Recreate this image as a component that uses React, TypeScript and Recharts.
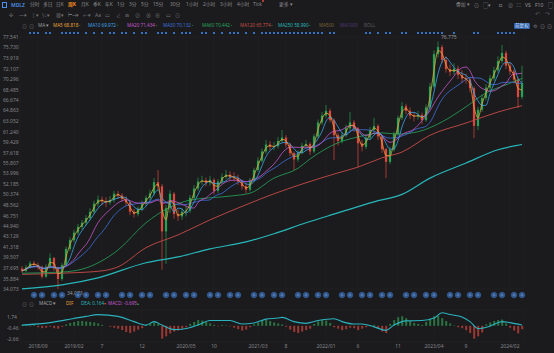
import React from 'react';
import { ComposedChart, Bar, Line, XAxis, YAxis, CartesianGrid, Cell } from 'recharts';

// ---------- DATA ----------
const closes = [37.2,37.8,38.5,38.2,37.9,36.2,37.9,39.4,37.6,35.8,38.2,41.0,42.5,43.8,44.8,45.5,46.3,47.4,48.8,49.5,
49.2,49.0,49.4,50.5,50.2,49.6,49.0,47.4,47.0,47.9,48.8,49.8,50.6,52.5,51.8,44.0,48.0,50.5,47.0,46.6,
47.4,47.6,49.8,51.4,52.6,52.8,52.4,52.9,51.0,52.6,53.4,53.8,53.4,53.2,52.6,51.8,51.2,52.8,54.6,56.2,
57.8,59.0,58.6,58.7,59.6,60.2,59.0,57.5,56.4,57.6,58.8,59.1,57.8,60.4,62.8,64.0,64.8,63.2,60.6,59.6,
60.6,61.8,62.8,61.8,59.2,58.6,60.2,61.5,62.2,60.4,58.2,56.0,58.1,60.8,63.6,65.6,64.8,64.0,63.8,64.1,
63.2,65.4,69.0,74.6,75.8,73.6,72.0,71.5,72.1,71.0,70.4,70.2,68.7,62.2,65.0,67.0,68.8,70.4,71.8,73.4,
74.8,72.6,71.6,70.2,67.2,69.6];
const opens = [37.6,37.2,37.8,38.5,38.2,37.9,36.2,37.9,39.4,37.6,35.8,38.2,41.0,42.5,43.8,44.8,45.5,46.3,47.4,48.8,
49.5,49.2,49.0,49.4,50.5,50.2,49.6,49.0,47.4,47.0,47.9,48.8,49.8,50.6,52.5,51.8,44.0,48.0,50.5,47.0,
46.6,47.4,47.6,49.8,51.4,52.6,52.8,52.4,52.9,51.0,52.6,53.4,53.8,53.4,53.2,52.6,51.8,51.2,52.8,54.6,
56.2,57.8,59.0,58.6,58.7,59.6,60.2,59.0,57.5,56.4,57.6,58.8,59.1,57.8,60.4,62.8,64.0,64.8,63.2,60.6,
59.6,60.6,61.8,62.8,61.8,59.2,58.6,60.2,61.5,62.2,60.4,58.2,56.0,58.1,60.8,63.6,65.6,64.8,64.0,63.8,
64.1,63.2,65.4,69.0,74.6,75.8,73.6,72.0,71.5,72.1,71.0,70.4,70.2,68.7,62.2,65.0,67.0,68.8,70.4,71.8,
73.4,74.8,72.6,71.6,70.2,67.2];
const highs = [38.0,38.2,38.9,38.9,38.6,38.1,38.3,40.2,39.6,37.9,38.6,41.4,43.0,44.3,45.3,46.0,46.8,48.0,49.3,50.2,
50.0,49.9,50.1,51.0,51.0,50.6,50.0,49.2,47.9,48.3,49.3,50.2,51.2,53.2,54.6,52.2,48.6,51.1,50.8,47.8,
48.0,48.4,50.3,52.0,53.3,53.6,53.3,53.6,53.2,53.0,54.0,54.6,54.4,54.2,53.8,52.9,52.3,53.2,55.0,56.8,
58.3,59.8,59.6,59.4,60.3,61.5,60.6,59.3,57.8,58.0,59.3,59.8,59.4,60.8,63.3,64.6,65.8,65.2,63.5,61.0,
61.2,62.4,64.6,63.2,62.0,59.8,60.6,62.0,63.6,62.5,60.6,58.4,58.6,61.2,64.0,66.3,66.0,65.4,64.6,64.8,
64.5,65.9,69.6,75.2,76.775,76.2,74.2,72.8,73.0,72.6,71.8,71.2,70.6,69.0,65.5,67.6,69.4,71.0,72.4,74.2,
76.2,75.2,73.2,72.0,70.6,72.6];
const lows = [36.9,37.0,37.6,37.8,37.4,35.9,36.0,37.6,37.2,34.073,35.5,38.0,40.6,42.1,43.4,44.3,45.0,45.9,47.0,48.3,
48.5,48.2,48.6,49.0,49.6,49.1,48.4,46.8,46.4,46.6,47.5,48.4,49.4,50.2,51.2,37.4,38.4,47.2,46.2,45.8,
46.0,46.6,47.2,49.4,51.0,52.0,51.8,51.9,50.4,50.6,52.2,53.0,52.8,52.6,52.0,51.2,50.6,50.9,52.5,54.3,
55.9,57.4,58.0,58.0,58.3,59.3,58.5,57.0,54.6,56.0,57.3,58.4,57.2,57.5,60.1,62.4,63.6,62.8,56.3,58.8,
59.2,60.3,61.4,61.2,55.1,57.8,58.2,59.8,61.0,59.8,57.5,53.2,55.6,57.8,60.5,63.2,64.2,63.4,63.0,63.3,
62.5,62.9,65.1,68.7,74.0,73.0,71.4,70.8,71.0,70.3,69.6,69.5,68.0,60.1,61.5,64.6,66.6,68.4,70.0,71.4,
73.0,72.0,71.0,69.5,65.3,66.8];

// long moving averages (anchor candles and values)
const ma60Idx = [0,10,16,24,31,42,52,57,63,69,72,79,84,90,94,99,105,111,116,121,125];
const ma60Val = [36.8,37.0,37.7,40.8,45.5,49.4,50.1,50.6,53.2,54.9,56.5,59.3,60.3,61.0,60.8,61.2,62.9,65.5,67.9,69.3,70.4];
const ma120Idx = [0,10,20,24,31,39,47,56,63,71,79,84,90,95,102,111,119,125];
const ma120Val = [36.6,36.8,37.2,37.9,41.2,43.4,46.0,48.6,50.5,52.4,54.1,55.1,56.7,57.7,60.6,62.7,64.6,65.7];
const ma250Idx = [0,10,19,31,39,47,56,63,71,79,88,95,102,111,119,125];
const ma250Val = [34.1,34.8,36.0,38.6,39.6,41.0,42.2,43.6,45.5,47.2,49.1,50.4,53.2,55.8,58.1,59.0];

// MACD panel
const macdHist = [0.2,0.1,-0.1,0.15,-0.3,-0.5,-0.4,-0.2,-0.5,-0.6,-0.2,0.3,0.6,0.8,1.0,1.0,0.9,0.8,0.7,0.5,
0.2,0.0,-0.2,-0.4,-0.6,-0.9,-1.3,-1.5,-1.2,-0.8,-0.5,0.2,0.5,0.7,0.4,-2.7,-2.2,-1.6,-1.2,-1.0,
-0.6,-0.3,0.4,0.8,1.2,1.1,0.8,0.5,0.2,-0.1,0.2,0.1,-0.1,-0.4,-0.7,-1.0,-0.8,-0.3,0.3,0.7,
1.1,1.2,1.0,0.7,0.5,0.3,-0.2,-0.8,-1.3,-1.5,-1.2,-0.9,-0.6,0.4,0.9,1.2,1.1,0.6,-0.3,-0.6,
-0.9,-0.7,-0.4,-0.5,-0.9,-0.6,-0.3,0.1,0.2,-0.6,-1.2,-1.5,0.4,1.2,1.8,2.0,1.6,1.0,0.6,0.4,
0.2,0.8,1.5,2.0,2.1,1.6,1.0,0.5,0.1,-0.3,-0.5,-0.9,-1.5,-2.7,-2.2,-1.4,0.3,0.7,1.0,1.2,
1.3,0.5,-0.4,-1.0,-1.6,-0.7];
const deaIdx = [0,7,11,16,19,24,28,31,33,35,38,40,44,47,52,55,58,61,64,65,68,71,74,78,80,83,85,88,91,93,96,100,103,105,107,110,112,114,117,120,122,125];
const deaVal = [0.15,0.66,1.25,1.98,2.35,1.98,0.88,0.15,0.88,0.15,-0.8,-0.73,0.15,1.1,1.1,0.37,0.59,1.4,1.62,1.76,0.88,0.52,1.1,1.47,0.88,0.37,0.37,-0.22,-0.95,0.15,1.03,1.1,1.62,2.73,2.35,1.84,0.88,-0.58,-0.07,0.88,0.66,0.16];

// event markers
const dividendIdx = [2,3,4,6,7,10,11,12,13,14,16,18,20,22,23,25,26,28,30,31,34,35,36,38,40,41,42,45,46,48,50,52,53,54,56,58,60,61,62,63,64,65,66,67,68,69,70,71,72,73,74,75,77,78,86,87,89,91,92,95,96,99,100,101,102,103,104,105,108,113,114,119,120,121,122,123];
const earningsIdx = [3,8,14,19,25,30,36,41,47,52,58,63,69,74,80,85,90,96,101,107,112,118,123];

// axis labels
const priceTicks = [77.541,75.730,73.919,72.107,70.296,68.485,66.674,64.863,63.052,61.240,59.429,57.618,55.807,53.996,52.185,50.374,48.562,46.751,44.940,43.129,41.318,39.507,37.695,35.884,34.073];
const macdTicks = [1.74,-0.46,-2.66];
const xTickIdx = [4,13,20,30,41,48,59,66,76,84,94,103,111,122];
const xTickText = ['2018/09','2019/02','7','12','2020/05','10','2021/03','8','2022/01','6','11','2023/04','9','2024/02'];

// ---------- helpers ----------
const N = closes.length;
const sma = (w: number, i: number) => {
  const s = Math.max(0, i - w + 1);
  let t = 0;
  for (let k = s; k <= i; k++) t += closes[k];
  return +(t / (i - s + 1)).toFixed(3);
};
const sparse = (idx: number[], val: number[]) => {
  const a: (number | null)[] = new Array(N).fill(null);
  idx.forEach((k, j) => { a[k] = val[j]; });
  return a;
};
const ma60 = sparse(ma60Idx, ma60Val);
const ma120 = sparse(ma120Idx, ma120Val);
const ma250 = sparse(ma250Idx, ma250Val);
const dea = sparse(deaIdx, deaVal);

const maxHigh = Math.max(...highs);
const minLow = Math.min(...lows);
const maxIdx = highs.indexOf(maxHigh);
const minIdx = lows.indexOf(minLow);

const rows = closes.map((c, i) => ({
  i,
  o: opens[i], h: highs[i], l: lows[i], c,
  ma5: sma(2, i), ma10: sma(4, i), ma20: sma(9, i), ma30: sma(13, i),
  ma60: ma60[i], ma120: ma120[i], ma250: ma250[i],
  hist: macdHist[i], dea: dea[i],
  ev: dividendIdx.includes(i) ? 1 : null,
  er: earningsIdx.includes(i) ? 1 : null,
}));

// ---------- styles ----------
const BG = '#1b1b1d';
const GRID = '#262629';
const AXT = '#85858a';
const UP = '#22a453';
const DOWN = '#e0463d';
const FONT = "'Noto Sans', 'Noto Sans CJK SC', sans-serif";
const C = { ma5: '#e9a23b', ma10: '#3fa2e6', ma20: '#c457cb', ma30: '#3d6fdc', ma60: '#27a35c', ma120: '#c64b47', ma250: '#27b7bb' };

const Candle = (p: any) => {
  const { x, y, width, height, payload } = p;
  if (!payload) return null;
  const { o, h, l, c, i } = payload;
  const top = Math.min(y, y + height);
  const hh = Math.abs(height);
  const k = hh / ((h - l) || 1);
  const up = c >= o;
  const col = up ? UP : DOWN;
  const cx = x + width / 2;
  const y1 = top + (h - Math.max(o, c)) * k;
  const y2 = top + (h - Math.min(o, c)) * k;
  const bw = Math.max(1, width * 0.55);
  return (
    <g>
      <line x1={cx} x2={cx} y1={top} y2={top + hh} stroke={col} strokeWidth={0.7} />
      <rect x={cx - bw / 2} y={y1} width={bw} height={Math.max(0.7, y2 - y1)} fill={col} />
      {i === maxIdx && (
        <text x={cx + 3} y={top - 2} fontSize={5} fill="#9a9a9e" fontFamily={FONT}>{maxHigh.toFixed(3)}</text>
      )}
      {i === minIdx && (
        <text x={cx + 9} y={top + hh + 6} fontSize={5} fill="#9a9a9e" fontFamily={FONT}>{minLow.toFixed(3)}</text>
      )}
    </g>
  );
};

const DivMark = (p: any) => {
  const { x, y, width, height } = p;
  if (height === undefined || isNaN(y)) return null;
  const cx = x + width / 2;
  const cy = Math.min(y, y + height) + Math.abs(height) / 2;
  return <rect x={cx - 1} y={cy - 1} width={2} height={2} fill="#3672c6" />;
};

const EarnMark = (p: any) => {
  const { x, y, width, height } = p;
  if (height === undefined || isNaN(y)) return null;
  const cx = x + width / 2;
  const cy = Math.min(y, y + height) + Math.abs(height) / 2;
  const one = (ox: number) => (
    <g key={ox}>
      <circle cx={ox} cy={cy} r={2.8} fill="#274d84" stroke="#3f72b8" strokeWidth={0.5} />
      <circle cx={ox} cy={cy} r={1.1} fill="none" stroke="#8fb0e0" strokeWidth={0.5} />
    </g>
  );
  return <g>{one(cx)}{one(cx + width * 2)}</g>;
};

const LeftTick = (p: any) => (
  <text x={3} y={p.y + 2} fontSize={5} fill={AXT} fontFamily={FONT}>{Number(p.payload.value).toFixed(3)}</text>
);
const RightTick = (p: any) => (
  <text x={531} y={p.y + 2} fontSize={5} fill={AXT} fontFamily={FONT}>{Number(p.payload.value).toFixed(3)}</text>
);
const LeftTickM = (p: any) => (
  <text x={7} y={p.y + 2} fontSize={5} fill={AXT} fontFamily={FONT}>{Number(p.payload.value).toFixed(2)}</text>
);
const RightTickM = (p: any) => (
  <text x={531} y={p.y + 2} fontSize={5} fill={AXT} fontFamily={FONT}>{Number(p.payload.value).toFixed(2)}</text>
);
const XTick = (p: any) => {
  const k = xTickIdx.indexOf(p.payload.value);
  return (
    <text x={p.x} y={p.y + 6} fontSize={5} fill={AXT} textAnchor="middle" fontFamily={FONT}>{k >= 0 ? xTickText[k] : ''}</text>
  );
};

const T = ({ x, y, c = AXT, s = 5, w = 400, children, bg }: any) => (
  <span style={{ position: 'absolute', left: x, top: y - s * 0.62, fontSize: s, lineHeight: 1.2 + 'em', height: s * 1.2, color: c, whiteSpace: 'nowrap', fontFamily: FONT, fontWeight: w, background: bg, padding: bg ? '0 1px' : 0, borderRadius: bg ? 1 : 0 }}>{children}</span>
);

const toolbar1 = ['分时', '多日', '日K', '周K', '月K', '季K', '年K', '1分', '3分', '5分', '15分', '30分', '1小时', '2小时', '3小时', '4小时', 'Tick'];
const toolbar1X = [30, 43, 56, 68, 81, 93, 105, 117, 129, 141, 153, 170, 186, 203, 220, 237, 253];
const tools2 = ['✣', '—▾', '⌇▾', '✂▾', '▦▾', '⊢⊣▾', '←▾', 'Aa', '▭', '∠', '⋒', '⊘', '⊗', '⊕', '▭', '⊙'];
const tools2X = [9, 19, 31, 42, 56, 68, 83, 95, 105, 116, 125, 135, 146, 155, 166, 175];

const legend = [
  { t: 'MA5', v: '68.818', c: C.ma5, x: 53 },
  { t: 'MA10', v: '69.972', c: C.ma10, x: 88 },
  { t: 'MA20', v: '71.434', c: C.ma20, x: 127 },
  { t: 'MA30', v: '70.132', c: C.ma30, x: 163 },
  { t: 'MA60', v: '70.442', c: C.ma60, x: 202 },
  { t: 'MA120', v: '65.774', c: C.ma120, x: 240 },
  { t: 'MA250', v: '58.990', c: C.ma250, x: 278 },
];

export default function App() {
  return (
    <div style={{ position: 'absolute', left: 0, top: 0, width: 554, height: 353, background: BG, overflow: 'hidden', fontFamily: FONT }}>
      {/* toolbar row 1 */}
      <span style={{ position: 'absolute', left: 2, top: 2, width: 5, height: 6, border: '1px solid #4d8fe6', boxSizing: 'border-box' }} />
      <T x={11} y={5} c="#4d8fe6" s={5} w={600}>MDLZ</T>
      {toolbar1.map((t, k) => (
        <T key={t} x={toolbar1X[k]} y={5} c={t === '周K' ? '#f08a24' : '#8d8d92'} s={4.8} w={t === '周K' ? 700 : 400}>{t}</T>
      ))}
      <span style={{ position: 'absolute', left: 262, top: 0, width: 2, height: 2, borderRadius: 1, background: '#e0463d' }} />
      <T x={279} y={5} c="#8d8d92" s={4.8}>更多 ▾</T>
      <T x={456} y={5} c="#8d8d92" s={4.8}>叠加 ▾</T>
      <T x={474} y={5} c="#8d8d92" s={5}>⊙</T>
      <T x={483} y={5} c="#8d8d92" s={5}>▢▾</T>
      <T x={499} y={5} c="#8d8d92" s={5}>◘</T>
      <T x={508} y={5} c="#8d8d92" s={5}>⊘</T>
      <T x={517} y={5} c="#8d8d92" s={5}>⛶</T>
      <T x={525} y={5} c="#9a9a9e" s={5}>VS</T>
      <T x={535} y={5} c="#9a9a9e" s={5}>F10</T>
      <T x={548} y={5} c="#9a9a9e" s={5}>▢</T>
      {/* toolbar row 2 */}
      {tools2.map((t, k) => (
        <T key={k} x={tools2X[k]} y={15} c="#77777c" s={5}>{t}</T>
      ))}
      <T x={535} y={15} c="#55555a" s={6}>↶</T>
      <T x={545} y={15} c="#55555a" s={6}>↷</T>
      {/* MA legend row */}
      <T x={22} y={26} c="#77777c" s={5}>⊙</T>
      <T x={29} y={26} c="#77777c" s={5}>⊙</T>
      <T x={38} y={26} c="#9a9a9e" s={4.6}>MA ▾</T>
      {legend.map((m) => (
        <T key={m.t} x={m.x} y={26} c={m.c} s={4.6}>{m.t} {m.v}<span style={{ color: '#22a453', fontSize: 3 }}>▪</span></T>
      ))}
      <T x={319} y={26} c="#7a6233" s={4.6}>MA500</T>
      <T x={340} y={26} c="#55367a" s={4.6}>MA1000</T>
      <T x={364} y={26} c="#5a5a5e" s={4.6}>BOLL</T>
      <T x={514} y={26} c="#d8e4f8" s={4.6} bg="#2f5ea8">前复权</T>
      <T x={533} y={26} c="#8d8d92" s={5}>⟲</T>
      <T x={540} y={26} c="#8d8d92" s={5}>⊙</T>
      <T x={547} y={26} c="#8d8d92" s={5}>⊙</T>

      {/* dividend markers row */}
      <div style={{ position: 'absolute', left: 0, top: 30 }}>
        <ComposedChart width={554} height={6} data={rows} margin={{ top: 0, right: 30, bottom: 0, left: 20 }} barCategoryGap={0} barGap={0}>
          <XAxis dataKey="i" hide />
          <YAxis hide domain={[0, 1]} />
          <Bar dataKey="ev" shape={<DivMark />} isAnimationActive={false} />
        </ComposedChart>
      </div>

      {/* price chart */}
      <div style={{ position: 'absolute', left: 0, top: 0 }}>
        <ComposedChart width={554} height={300} data={rows} margin={{ top: 37, right: 0, bottom: 11, left: 0 }} barCategoryGap={0} barGap={0}>
          <CartesianGrid stroke={GRID} strokeWidth={0.6} />
          <XAxis dataKey="i" hide ticks={xTickIdx} interval={0} />
          <YAxis yAxisId="l" orientation="left" width={20} domain={[34.073, 77.541]} ticks={priceTicks} interval={0} tick={<LeftTick />} axisLine={false} tickLine={false} />
          <YAxis yAxisId="r" orientation="right" width={30} domain={[34.073, 77.541]} ticks={priceTicks} interval={0} tick={<RightTick />} axisLine={false} tickLine={false} />
          <Line yAxisId="l" dataKey="ma250" stroke={C.ma250} strokeWidth={1.2} dot={false} connectNulls type="monotone" isAnimationActive={false} />
          <Line yAxisId="l" dataKey="ma120" stroke={C.ma120} strokeWidth={0.9} dot={false} connectNulls type="monotone" isAnimationActive={false} />
          <Bar yAxisId="l" dataKey={(d: any) => [d.l, d.h]} shape={<Candle />} isAnimationActive={false} />
          <Line yAxisId="l" dataKey="ma60" stroke={C.ma60} strokeWidth={0.8} dot={false} connectNulls type="monotone" isAnimationActive={false} />
          <Line yAxisId="l" dataKey="ma30" stroke={C.ma30} strokeWidth={0.8} dot={false} type="monotone" isAnimationActive={false} />
          <Line yAxisId="l" dataKey="ma20" stroke={C.ma20} strokeWidth={0.8} dot={false} type="monotone" isAnimationActive={false} />
          <Line yAxisId="l" dataKey="ma10" stroke={C.ma10} strokeWidth={0.8} dot={false} type="monotone" isAnimationActive={false} />
          <Line yAxisId="l" dataKey="ma5" stroke={C.ma5} strokeWidth={0.8} dot={false} type="monotone" isAnimationActive={false} />
        </ComposedChart>
      </div>

      {/* earnings markers row */}
      <div style={{ position: 'absolute', left: 0, top: 291 }}>
        <ComposedChart width={554} height={8} data={rows} margin={{ top: 0, right: 30, bottom: 0, left: 20 }} barCategoryGap={0} barGap={0}>
          <XAxis dataKey="i" hide />
          <YAxis hide domain={[0, 1]} />
          <Bar dataKey="er" shape={<EarnMark />} isAnimationActive={false} />
        </ComposedChart>
      </div>

      {/* MACD legend */}
      <T x={22} y={304} c="#77777c" s={5}>⊙</T>
      <T x={29} y={304} c="#77777c" s={5}>⊙</T>
      <T x={39} y={304} c="#a0a0a4" s={4.6}>MACD ▾</T>
      <T x={66} y={304} c={C.ma5} s={4.6}>DIF</T>
      <T x={81} y={304} c={C.ma250} s={4.6}>DEA: 0.164<span style={{ color: DOWN, fontSize: 3.5 }}>▾</span></T>
      <T x={108} y={304} c={C.ma20} s={4.6}>MACD: -0.695<span style={{ color: UP, fontSize: 3.5 }}>▴</span></T>

      {/* MACD chart */}
      <div style={{ position: 'absolute', left: 0, top: 300 }}>
        <ComposedChart width={554} height={53} data={rows} margin={{ top: 10, right: 0, bottom: 0, left: 0 }} barCategoryGap="30%" barGap={0}>
          <CartesianGrid stroke={GRID} strokeWidth={0.6} />
          <XAxis dataKey="i" ticks={xTickIdx} interval={0} height={11} tick={<XTick />} tickSize={0} tickMargin={0} axisLine={false} tickLine={false} />
          <YAxis yAxisId="l" orientation="left" width={20} domain={[-3.39, 3.31]} ticks={macdTicks} interval={0} tick={<LeftTickM />} axisLine={false} tickLine={false} />
          <YAxis yAxisId="r" orientation="right" width={30} domain={[-3.39, 3.31]} ticks={macdTicks} interval={0} tick={<RightTickM />} axisLine={false} tickLine={false} />
          <Bar yAxisId="l" dataKey="hist" isAnimationActive={false}>
            {rows.map((r) => (
              <Cell key={r.i} fill={r.hist >= 0 ? '#2a7442' : '#9c3833'} />
            ))}
          </Bar>
          <Line yAxisId="l" dataKey="dea" stroke="#2bb2bf" strokeWidth={1.1} dot={false} connectNulls type="monotone" isAnimationActive={false} />
        </ComposedChart>
      </div>
    </div>
  );
}
